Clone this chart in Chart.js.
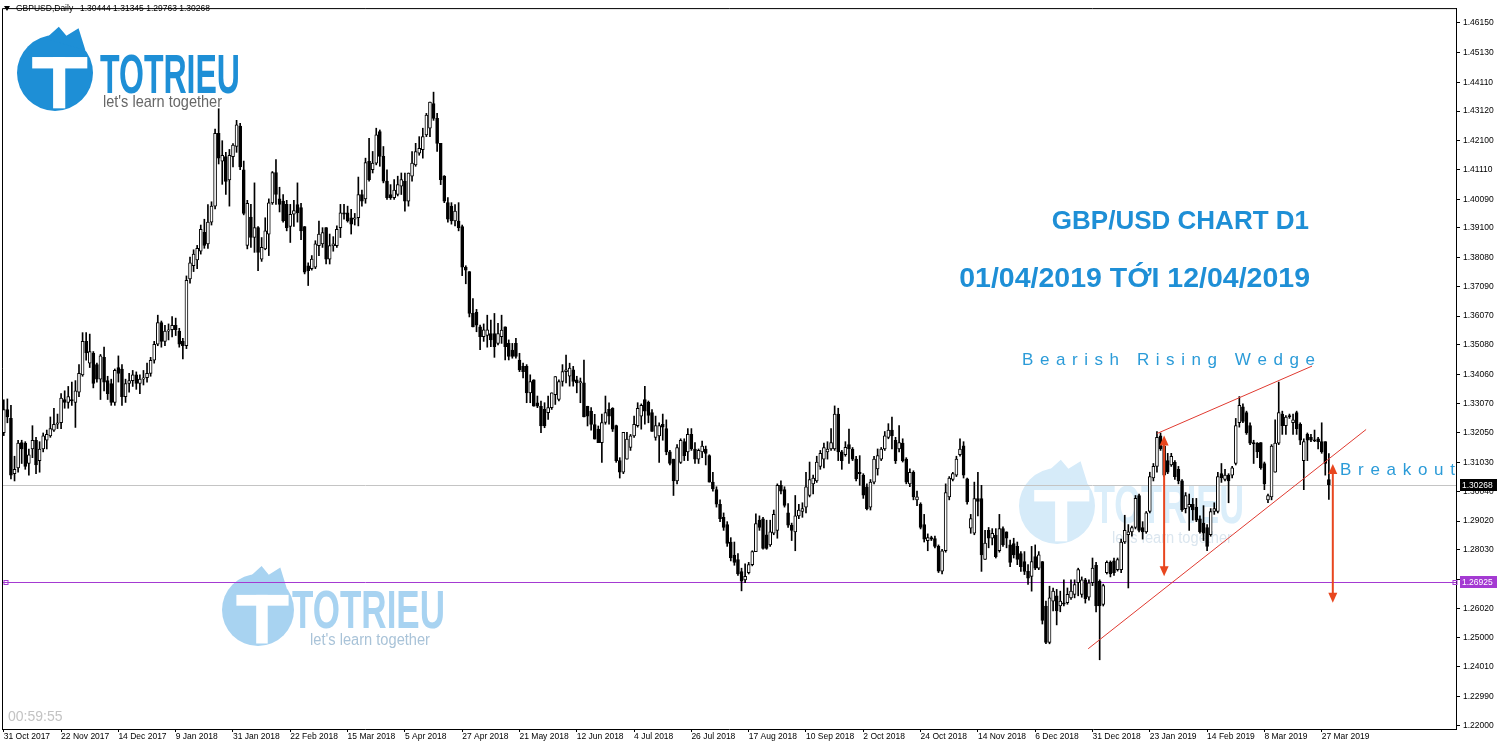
<!DOCTYPE html>
<html>
<head>
<meta charset="utf-8">
<script src="https://cdn.jsdelivr.net/npm/chart.js@4.4.1/dist/chart.umd.min.js"></script>
<style>
  html, body { margin: 0; padding: 0; background: #fff; }
  #wrap { width: 1500px; height: 746px; }
</style>
</head>
<body>
<div id="wrap"><canvas id="chart" width="1500" height="746"></canvas></div>
<script>
// GBPUSD daily, 31 Oct 2017 .. 29 Mar 2019
const tickLabels = ['31 Oct 2017', '22 Nov 2017', '14 Dec 2017', '9 Jan 2018', '31 Jan 2018', '22 Feb 2018',
  '15 Mar 2018', '5 Apr 2018', '27 Apr 2018', '21 May 2018', '12 Jun 2018', '4 Jul 2018', '26 Jul 2018',
  '17 Aug 2018', '10 Sep 2018', '2 Oct 2018', '24 Oct 2018', '14 Nov 2018', '6 Dec 2018', '31 Dec 2018',
  '23 Jan 2019', '14 Feb 2019', '8 Mar 2019', '27 Mar 2019'];

const priceTicks = [1.46150, 1.45130, 1.44110, 1.43120, 1.42100, 1.41110, 1.40090, 1.39100, 1.38080,
  1.37090, 1.36070, 1.35080, 1.34060, 1.33070, 1.32050, 1.31030, 1.30040, 1.29020, 1.28030, 1.27010,
  1.26020, 1.25000, 1.24010, 1.22990, 1.22000];

const opens = [
  1.3206,1.3285,1.3255,1.3065,1.3085,1.3172,1.3170,1.3100,1.3150,1.3180,
  1.3110,1.3150,1.3180,1.3195,1.3215,1.3235,1.3240,1.3320,1.3310,1.3320,
  1.3310,1.3345,1.3405,1.3520,1.3445,1.3480,1.3440,1.3390,1.3465,1.3385,
  1.3375,1.3310,1.3430,1.3425,1.3330,1.3375,1.3385,1.3405,1.3375,1.3390,
  1.3395,1.3410,1.3455,1.3510,1.3585,1.3520,1.3555,1.3560,1.3575,1.3555,
  1.3520,1.3505,1.3735,1.3780,1.3800,1.3830,1.3895,1.3855,1.3930,1.3985,
  1.4235,1.4140,1.4155,1.4075,1.4155,1.4190,1.4260,1.4110,1.3850,1.3947,
  1.3877,1.3911,1.3803,1.3838,1.3889,1.3996,1.4100,1.4010,1.4002,1.3991,
  1.3915,1.3957,1.3990,1.3980,1.3915,1.3780,1.3770,1.3775,1.3849,1.3855,
  1.3911,1.3803,1.3849,1.3849,1.3911,1.3962,1.3962,1.3945,1.3940,1.3945,
  1.4025,1.4010,1.4139,1.4110,1.4133,1.4241,1.4156,1.4071,1.4025,1.4014,
  1.4025,1.4054,1.4071,1.4002,1.4088,1.4127,1.4167,1.4179,1.4230,1.4253,
  1.4338,1.4287,1.4201,1.4088,1.3997,1.3985,1.3934,1.3934,1.3915,1.3775,
  1.3760,1.3616,1.3620,1.3570,1.3536,1.3540,1.3547,1.3547,1.3513,1.3536,
  1.3570,1.3513,1.3490,1.3513,1.3456,1.3434,1.3434,1.3343,1.3388,1.3309,
  1.3297,1.3286,1.3275,1.3292,1.3337,1.3320,1.3382,1.3416,1.3400,1.3422,
  1.3388,1.3377,1.3377,1.3297,1.3280,1.3234,1.3218,1.3172,1.3241,1.3286,
  1.3290,1.3230,1.3110,1.3070,1.3115,1.3155,1.3195,1.3230,1.3263,1.3320,
  1.3310,1.3275,1.3190,1.3195,1.3235,1.3220,1.3140,1.3115,1.3040,1.3104,
  1.3175,1.3140,1.3200,1.3150,1.3115,1.3140,1.3150,1.3127,1.3036,1.3010,
  1.2960,1.2915,1.2890,1.2830,1.2785,1.2770,1.2728,1.2700,1.2725,1.2752,
  1.2797,1.2905,1.2910,1.2855,1.2820,1.2860,1.2870,1.3025,1.3010,1.2930,
  1.2888,1.2865,1.2920,1.2935,1.2950,1.2990,1.3030,1.3040,1.3090,1.3115,
  1.3140,1.3150,1.3150,1.3270,1.3140,1.3130,1.3165,1.3150,1.3115,1.3070,
  1.3060,1.3020,1.2950,1.3036,1.3081,1.3115,1.3150,1.3190,1.3215,1.3180,
  1.3150,1.3170,1.3115,1.3030,1.3070,1.2975,1.2960,1.2890,1.2835,1.2845,
  1.2842,1.2815,1.2730,1.2800,1.2985,1.3045,1.3060,1.3130,1.3161,1.3047,
  1.2878,1.2860,1.2979,1.2979,1.2770,1.2870,1.2843,1.2854,1.2800,1.2876,
  1.2865,1.2820,1.2825,1.2815,1.2790,1.2763,1.2729,1.2712,1.2780,1.2740,
  1.2763,1.2610,1.2485,1.2627,1.2645,1.2610,1.2621,1.2621,1.2638,1.2650,
  1.2690,1.2650,1.2700,1.2640,1.2690,1.2750,1.2695,1.2615,1.2725,1.2760,
  1.2765,1.2735,1.2735,1.2830,1.2855,1.2865,1.2880,1.2990,1.2880,1.2865,
  1.2935,1.3050,1.3090,1.3195,1.3160,1.3110,1.3095,1.3104,1.3080,1.3040,
  1.2945,1.2950,1.2960,1.2950,1.2910,1.2895,1.2880,1.2855,1.2935,1.2935,
  1.3065,1.3045,1.3060,1.3060,1.3100,1.3240,1.3295,1.3275,1.3230,1.3172,
  1.3170,1.3172,1.3100,1.2975,1.2985,1.3070,1.3170,1.3270,1.3230,1.3265,
  1.3240,1.3275,1.3235,1.3110,1.3200,1.3190,1.3180,1.3185,1.3175,1.3175,
  1.30444];

const highs = [
  1.3319,1.3322,1.3300,1.3125,1.3180,1.3180,1.3175,1.3150,1.3230,1.3190,
  1.3175,1.3205,1.3215,1.3260,1.3290,1.3270,1.3340,1.3350,1.3365,1.3380,
  1.3385,1.3440,1.3550,1.3550,1.3545,1.3485,1.3445,1.3475,1.3500,1.3400,
  1.3390,1.3425,1.3470,1.3440,1.3390,1.3410,1.3420,1.3415,1.3405,1.3420,
  1.3445,1.3465,1.3520,1.3610,1.3590,1.3575,1.3580,1.3605,1.3600,1.3565,
  1.3530,1.3745,1.3810,1.3835,1.3850,1.3920,1.3940,1.3990,1.4000,1.4250,
  1.4320,1.4210,1.4170,1.4180,1.4200,1.4280,1.4270,1.4140,1.4005,1.3991,
  1.4065,1.3915,1.3877,1.3945,1.4010,1.4104,1.4145,1.4050,1.4025,1.4005,
  1.3991,1.4005,1.4065,1.3995,1.3915,1.3790,1.3815,1.3866,1.3934,1.3911,
  1.3911,1.3889,1.3880,1.3917,1.3991,1.3991,1.3985,1.3974,1.3960,1.4085,
  1.4040,1.4150,1.4218,1.4173,1.4253,1.4247,1.4190,1.4110,1.4059,1.4076,
  1.4088,1.4099,1.4099,1.4099,1.4173,1.4201,1.4224,1.4253,1.4304,1.4343,
  1.4377,1.4304,1.4201,1.4090,1.4014,1.3997,1.3990,1.3997,1.3920,1.3780,
  1.3760,1.3667,1.3630,1.3576,1.3580,1.3610,1.3593,1.3616,1.3582,1.3610,
  1.3570,1.3525,1.3513,1.3530,1.3479,1.3445,1.3440,1.3405,1.3388,1.3332,
  1.3315,1.3309,1.3332,1.3343,1.3399,1.3388,1.3440,1.3473,1.3445,1.3434,
  1.3400,1.3394,1.3456,1.3297,1.3292,1.3269,1.3229,1.3270,1.3332,1.3309,
  1.3292,1.3232,1.3120,1.3207,1.3207,1.3200,1.3263,1.3309,1.3305,1.3365,
  1.3315,1.3285,1.3263,1.3240,1.3270,1.3250,1.3145,1.3115,1.3165,1.3185,
  1.3185,1.3220,1.3220,1.3172,1.3150,1.3177,1.3160,1.3130,1.3070,1.3020,
  1.2975,1.2930,1.2900,1.2845,1.2830,1.2790,1.2740,1.2755,1.2760,1.2800,
  1.2927,1.2920,1.2915,1.2905,1.2905,1.2940,1.3030,1.3040,1.3020,1.2962,
  1.2895,1.2990,1.2960,1.2965,1.3070,1.3105,1.3060,1.3125,1.3145,1.3170,
  1.3175,1.3220,1.3298,1.3290,1.3145,1.3175,1.3218,1.3155,1.3125,1.3127,
  1.3065,1.3030,1.3045,1.3125,1.3150,1.3155,1.3210,1.3237,1.3260,1.3190,
  1.3230,1.3185,1.3120,1.3082,1.3075,1.3005,1.2965,1.2925,1.2858,1.2850,
  1.2850,1.2820,1.2805,1.3030,1.3055,1.3070,1.3125,1.3185,1.3175,1.3050,
  1.2925,1.3036,1.3070,1.3025,1.2870,1.2880,1.2876,1.2876,1.2925,1.2882,
  1.2865,1.2837,1.2843,1.2830,1.2797,1.2797,1.2752,1.2815,1.2820,1.2797,
  1.2763,1.2627,1.2678,1.2672,1.2667,1.2661,1.2700,1.2672,1.2700,1.2700,
  1.2740,1.2710,1.2705,1.2700,1.2775,1.2760,1.2700,1.2685,1.2765,1.2765,
  1.2775,1.2775,1.2840,1.2922,1.2890,1.2885,1.2990,1.2995,1.2900,1.2935,
  1.3070,1.3100,1.3210,1.3205,1.3165,1.3135,1.3135,1.3110,1.3090,1.3045,
  1.3000,1.2995,1.2980,1.2980,1.2920,1.2955,1.2890,1.2945,1.2965,1.3070,
  1.3100,1.3080,1.3065,1.3090,1.3255,1.3330,1.3305,1.3280,1.3240,1.3180,
  1.3172,1.3172,1.3105,1.2995,1.3165,1.3250,1.3380,1.3280,1.3265,1.3270,
  1.3270,1.3280,1.3240,1.3185,1.3205,1.3200,1.3215,1.3190,1.3240,1.3175,
  1.31345];

const lows = [
  1.3196,1.3240,1.3047,1.3040,1.3070,1.3100,1.3080,1.3060,1.3120,1.3065,
  1.3070,1.3140,1.3150,1.3190,1.3210,1.3220,1.3220,1.3290,1.3290,1.3300,
  1.3224,1.3330,1.3400,1.3455,1.3430,1.3360,1.3380,1.3320,1.3350,1.3320,
  1.3300,1.3300,1.3380,1.3300,1.3310,1.3345,1.3365,1.3355,1.3340,1.3370,
  1.3380,1.3400,1.3445,1.3505,1.3500,1.3505,1.3525,1.3535,1.3540,1.3500,
  1.3460,1.3495,1.3720,1.3760,1.3770,1.3820,1.3840,1.3840,1.3920,1.3975,
  1.4130,1.4060,1.4025,1.3985,1.4120,1.4170,1.4110,1.3955,1.3838,1.3843,
  1.3826,1.3763,1.3795,1.3835,1.3815,1.3991,1.3991,1.3965,1.3930,1.3900,
  1.3860,1.3915,1.3930,1.3870,1.3752,1.3712,1.3765,1.3770,1.3815,1.3843,
  1.3786,1.3786,1.3830,1.3843,1.3877,1.3940,1.3930,1.3889,1.3920,1.3917,
  1.3985,1.3995,1.4071,1.4099,1.4127,1.4122,1.4065,1.4008,1.4008,1.4008,
  1.4020,1.4025,1.3968,1.3985,1.4071,1.4122,1.4160,1.4150,1.4224,1.4224,
  1.4280,1.4173,1.4059,1.3997,1.3930,1.3923,1.3917,1.3900,1.3746,1.3718,
  1.3604,1.3570,1.3553,1.3491,1.3520,1.3500,1.3502,1.3465,1.3508,1.3513,
  1.3456,1.3456,1.3462,1.3462,1.3416,1.3394,1.3309,1.3309,1.3297,1.3292,
  1.3206,1.3223,1.3252,1.3286,1.3303,1.3315,1.3366,1.3377,1.3366,1.3366,
  1.3343,1.3309,1.3260,1.3229,1.3215,1.3184,1.3172,1.3104,1.3235,1.3235,
  1.3210,1.3104,1.3050,1.3065,1.3115,1.3145,1.3190,1.3225,1.3218,1.3235,
  1.3240,1.3210,1.3180,1.3104,1.3180,1.3130,1.3095,1.2990,1.3030,1.3100,
  1.3110,1.3110,1.3145,1.3100,1.3100,1.3120,1.3095,1.3036,1.3005,1.2950,
  1.2900,1.2870,1.2815,1.2765,1.2750,1.2715,1.2662,1.2690,1.2720,1.2748,
  1.2797,1.2870,1.2805,1.2805,1.2815,1.2855,1.2843,1.2995,1.2950,1.2880,
  1.2835,1.2800,1.2910,1.2915,1.2930,1.2985,1.2995,1.3035,1.3080,1.3085,
  1.3115,1.3145,1.3145,1.3110,1.3080,1.3125,1.3100,1.3110,1.3040,1.3025,
  1.2980,1.2940,1.2940,1.3030,1.3060,1.3110,1.3145,1.3185,1.3150,1.3100,
  1.3140,1.3105,1.3030,1.3020,1.2975,1.2955,1.2875,1.2830,1.2800,1.2835,
  1.2810,1.2725,1.2720,1.2795,1.2975,1.3040,1.3055,1.3125,1.3050,1.2960,
  1.2860,1.2855,1.2920,1.2729,1.2770,1.2810,1.2820,1.2775,1.2795,1.2815,
  1.2810,1.2745,1.2775,1.2752,1.2729,1.2718,1.2684,1.2661,1.2735,1.2735,
  1.2548,1.2480,1.2480,1.2593,1.2545,1.2590,1.2610,1.2616,1.2633,1.2638,
  1.2645,1.2640,1.2620,1.2630,1.2680,1.2590,1.2425,1.2610,1.2720,1.2710,
  1.2715,1.2730,1.2725,1.2825,1.2672,1.2850,1.2875,1.2865,1.2840,1.2860,
  1.2930,1.3040,1.3070,1.3145,1.3055,1.3065,1.3090,1.3045,1.3030,1.2935,
  1.2930,1.2870,1.2905,1.2900,1.2860,1.2835,1.2800,1.2850,1.2925,1.2930,
  1.3035,1.3040,1.2965,1.3050,1.3095,1.3225,1.3240,1.3200,1.3165,1.3100,
  1.3120,1.3080,1.3010,1.2965,1.2975,1.3070,1.3165,1.3200,1.3200,1.3255,
  1.3200,1.3200,1.3165,1.3010,1.3110,1.3175,1.3175,1.3150,1.3135,1.3060,
  1.29763];

const closes = [
  1.3285,1.3260,1.3060,1.3080,1.3170,1.3150,1.3090,1.3130,1.3180,1.3095,
  1.3150,1.3195,1.3200,1.3220,1.3235,1.3240,1.3325,1.3310,1.3330,1.3315,
  1.3350,1.3410,1.3520,1.3480,1.3485,1.3375,1.3390,1.3470,1.3380,1.3340,
  1.3310,1.3420,1.3410,1.3330,1.3375,1.3385,1.3405,1.3375,1.3390,1.3395,
  1.3410,1.3455,1.3510,1.3585,1.3520,1.3555,1.3560,1.3575,1.3560,1.3510,
  1.3505,1.3730,1.3790,1.3820,1.3840,1.3905,1.3850,1.3930,1.3985,1.4235,
  1.4150,1.4160,1.4070,1.4160,1.4195,1.4265,1.4120,1.3960,1.3995,1.3877,
  1.3911,1.3826,1.3843,1.3900,1.3996,1.4100,1.4025,1.3991,1.3934,1.3911,
  1.3957,1.3970,1.3962,1.3900,1.3758,1.3763,1.3803,1.3855,1.3889,1.3894,
  1.3803,1.3849,1.3855,1.3905,1.3962,1.3957,1.3934,1.3923,1.3945,1.4025,
  1.4002,1.4135,1.4076,1.4133,1.4230,1.4156,1.4071,1.4014,1.4014,1.4040,
  1.4059,1.4076,1.4002,1.4099,1.4133,1.4173,1.4184,1.4224,1.4298,1.4343,
  1.4287,1.4201,1.4076,1.4002,1.3940,1.3934,1.3968,1.3911,1.3775,1.3765,
  1.3616,1.3570,1.3576,1.3536,1.3560,1.3560,1.3525,1.3502,1.3547,1.3559,
  1.3502,1.3468,1.3468,1.3468,1.3422,1.3416,1.3343,1.3382,1.3297,1.3297,
  1.3229,1.3229,1.3292,1.3343,1.3399,1.3382,1.3416,1.3422,1.3428,1.3382,
  1.3377,1.3382,1.3260,1.3263,1.3234,1.3184,1.3172,1.3241,1.3275,1.3263,
  1.3218,1.3110,1.3070,1.3207,1.3184,1.3195,1.3235,1.3290,1.3300,1.3280,
  1.3265,1.3210,1.3230,1.3230,1.3225,1.3140,1.3100,1.3040,1.3155,1.3180,
  1.3127,1.3200,1.3150,1.3115,1.3145,1.3160,1.3135,1.3036,1.3013,1.2960,
  1.2910,1.2880,1.2825,1.2775,1.2760,1.2720,1.2695,1.2712,1.2752,1.2797,
  1.2893,1.2880,1.2808,1.2808,1.2865,1.2925,1.3025,1.3005,1.2956,1.2888,
  1.2870,1.2920,1.2940,1.2945,1.3020,1.3045,1.3050,1.3105,1.3135,1.3155,
  1.3150,1.3172,1.3270,1.3140,1.3110,1.3156,1.3150,1.3115,1.3047,1.3065,
  1.2991,1.2945,1.3036,1.3115,1.3127,1.3150,1.3195,1.3215,1.3195,1.3110,
  1.3172,1.3110,1.3036,1.3070,1.2985,1.2985,1.2880,1.2840,1.2845,1.2840,
  1.2815,1.2730,1.2800,1.3000,1.3050,1.3065,1.3115,1.3150,1.3060,1.2968,
  1.2911,1.2979,1.2970,1.2786,1.2826,1.2843,1.2860,1.2780,1.2876,1.2820,
  1.2843,1.2760,1.2786,1.2770,1.2745,1.2729,1.2706,1.2763,1.2740,1.2786,
  1.2560,1.2485,1.2638,1.2661,1.2593,1.2627,1.2616,1.2650,1.2661,1.2684,
  1.2735,1.2700,1.2635,1.2690,1.2740,1.2610,1.2610,1.2680,1.2760,1.2720,
  1.2725,1.2770,1.2830,1.2870,1.2865,1.2880,1.2980,1.2870,1.2865,1.2930,
  1.3055,1.3090,1.3190,1.3150,1.3060,1.3070,1.3125,1.3055,1.3040,1.2940,
  1.2990,1.2960,1.2940,1.2905,1.2865,1.2860,1.2815,1.2935,1.2945,1.3055,
  1.3050,1.3060,1.3040,1.3085,1.3230,1.3300,1.3245,1.3205,1.3170,1.3167,
  1.3140,1.3085,1.3030,1.2990,1.3160,1.3170,1.3275,1.3230,1.3260,1.3260,
  1.3250,1.3220,1.3180,1.3175,1.3180,1.3180,1.3178,1.3175,1.3140,1.3100,
  1.30268];

const lastPrice = 1.30268;
const levelPrice = 1.26925;
const headerValues = [1.30444, 1.31345, 1.29763, 1.30268];
// wedge trend lines and target arrows, in [bar index, price]
const wedgeUpper = [[322.0, 1.3203], [365.3, 1.3435]];
const wedgeLower = [[302.8, 1.2463], [380.4, 1.3217]];
const arrows = [[324.0, 1.3196, 1.2712], [371.1, 1.3098, 1.2621]];

const FONT = "'Liberation Sans', Arial, sans-serif";
const BLUE = '#1e8fd6';

const n = Math.min(opens.length, highs.length, lows.length, closes.length);
const bodies = [], wicks = [];
for (let i = 0; i < n; i++) {
  bodies.push({ x: i, y: [opens[i], closes[i]] });
  wicks.push({ x: i, y: [lows[i], highs[i]] });
}

function drawLogo(c, o) {
  c.save();
  c.fillStyle = o.icon;
  c.beginPath();
  c.arc(o.cx, o.cy, o.r, 0, Math.PI * 2);
  c.fill();
  // little flame on top of the badge
  c.beginPath();
  c.moveTo(o.cx - o.r * 0.25, o.cy - o.r * 0.9);
  c.lineTo(o.cx + o.r * 0.1, o.cy - o.r * 1.22);
  c.lineTo(o.cx + o.r * 0.3, o.cy - o.r * 0.98);
  c.lineTo(o.cx + o.r * 0.62, o.cy - o.r * 1.18);
  c.lineTo(o.cx + o.r * 0.8, o.cy - o.r * 0.6);
  c.closePath();
  c.fill();
  c.fillStyle = '#fff';
  c.fillRect(o.cx - o.r * 0.6, o.cy - o.r * 0.42, o.r * 1.45, o.r * 0.3);
  c.fillRect(o.cx - o.r * 0.05, o.cy - o.r * 0.42, o.r * 0.32, o.r * 1.35);

  c.fillStyle = o.text;
  c.font = 'bold ' + o.ts + 'px ' + FONT;
  c.textBaseline = 'alphabetic';
  c.textAlign = 'left';
  let w = c.measureText('TOTRIEU').width;
  c.save();
  c.translate(o.tx, o.tb);
  c.scale(o.tw / w, 1);
  c.fillText('TOTRIEU', 0, 0);
  c.restore();

  c.fillStyle = o.tag;
  c.font = o.gs + 'px ' + FONT;
  c.textBaseline = 'middle';
  w = c.measureText("let's learn together").width;
  c.save();
  c.translate(o.gx, o.gy);
  c.scale(o.gw / w, 1);
  c.fillText("let's learn together", 0, 0);
  c.restore();
  c.restore();
}

function drawSpaced(c, text, x0, x1, y) {
  const chars = text.split('');
  const widths = chars.map(ch => c.measureText(ch).width);
  const natural = widths.reduce((a, b) => a + b, 0);
  const gap = (x1 - x0 - natural) / (chars.length - 1);
  let x = x0;
  chars.forEach((ch, k) => {
    c.fillText(ch, x, y);
    x += widths[k] + gap;
  });
}

function drawArrow(c, x, yTop, yBot) {
  const head = 10, half = 4.5;
  c.strokeStyle = '#e8461e';
  c.fillStyle = '#e8461e';
  c.lineWidth = 2;
  c.beginPath();
  c.moveTo(x, yTop + head - 1);
  c.lineTo(x, yBot - head + 1);
  c.stroke();
  c.beginPath();
  c.moveTo(x, yTop);
  c.lineTo(x - half, yTop + head);
  c.lineTo(x + half, yTop + head);
  c.closePath();
  c.fill();
  c.beginPath();
  c.moveTo(x, yBot);
  c.lineTo(x - half, yBot - head);
  c.lineTo(x + half, yBot - head);
  c.closePath();
  c.fill();
}

function priceBox(c, chart, p, bg) {
  const y = Math.round(chart.scales.y.getPixelForValue(p));
  const x = chart.chartArea.right + 4;
  c.fillStyle = bg;
  c.fillRect(x, y - 6, 37, 12);
  c.fillStyle = '#fff';
  c.font = '8.5px ' + FONT;
  c.textBaseline = 'middle';
  c.textAlign = 'left';
  c.fillText(p.toFixed(5), x + 2, y + 0.5);
}

const decor = {
  id: 'decor',
  beforeDatasetsDraw(chart) {
    const c = chart.ctx, a = chart.chartArea, ys = chart.scales.y;
    c.save();
    drawLogo(c, { cx: 258, cy: 610, r: 36, tx: 292, tw: 153, tb: 628, ts: 54, gx: 310, gw: 120, gy: 641, gs: 16,
      icon: '#a8d3f1', text: '#a8d3f1', tag: '#a9c3d8' });
    drawLogo(c, { cx: 1057, cy: 506, r: 38, tx: 1094, tw: 150, tb: 523, ts: 54, gx: 1112, gw: 120, gy: 539, gs: 16,
      icon: '#d6ebf9', text: '#dbeefa', tag: '#dbe6ef' });
    drawLogo(c, { cx: 55, cy: 73, r: 38, tx: 100, tw: 140, tb: 93, ts: 56, gx: 103, gw: 119, gy: 102, gs: 17,
      icon: BLUE, text: BLUE, tag: '#676767' });

    const yl = Math.round(ys.getPixelForValue(lastPrice)) + 0.5;
    c.strokeStyle = '#c4c4c4';
    c.lineWidth = 1;
    c.beginPath();
    c.moveTo(a.left, yl);
    c.lineTo(a.right, yl);
    c.stroke();

    const yp = Math.round(ys.getPixelForValue(levelPrice)) + 0.5;
    c.strokeStyle = '#a43ad2';
    c.beginPath();
    c.moveTo(a.left, yp);
    c.lineTo(a.right, yp);
    c.stroke();
    c.strokeRect(a.left + 2, yp - 2, 4, 4);
    c.strokeRect(a.right - 3, yp - 2, 4, 4);
    c.restore();
  },
  afterDatasetsDraw(chart) {
    const c = chart.ctx, a = chart.chartArea, xs = chart.scales.x, ys = chart.scales.y;
    c.save();
    // frame, left and top
    c.strokeStyle = '#000';
    c.lineWidth = 1;
    c.beginPath();
    c.moveTo(a.left + 0.5, a.bottom);
    c.lineTo(a.left + 0.5, a.top + 0.5);
    c.lineTo(a.right, a.top + 0.5);
    c.stroke();

    arrows.forEach(([i, top, bot]) => {
      drawArrow(c, xs.getPixelForValue(i), ys.getPixelForValue(top), ys.getPixelForValue(bot));
    });

    c.fillStyle = BLUE;
    c.textBaseline = 'middle';
    c.textAlign = 'right';
    c.font = 'bold 26px ' + FONT;
    c.fillText('GBP/USD CHART D1', 1309, 222);
    c.font = 'bold 28.5px ' + FONT;
    c.fillText('01/04/2019 TỚI 12/04/2019', 1310, 279);

    c.textAlign = 'left';
    c.fillStyle = '#2b9bd8';
    c.font = '17px ' + FONT;
    drawSpaced(c, 'Bearish Rising Wedge', 1022, 1315, 360);
    drawSpaced(c, 'Breakout', 1340, 1455, 470);

    priceBox(c, chart, lastPrice, '#000');
    priceBox(c, chart, levelPrice, '#a43ad2');

    // header
    c.fillStyle = '#000';
    c.beginPath();
    c.moveTo(4, 6);
    c.lineTo(10, 6);
    c.lineTo(7, 11);
    c.closePath();
    c.fill();
    c.font = '8.5px ' + FONT;
    c.textBaseline = 'middle';
    c.fillText('GBPUSD,Daily', 16, 9);
    c.fillText(headerValues.map(v => v.toFixed(5)).join(' '), 80, 9);

    c.fillStyle = '#c3c3c3';
    c.font = '14px ' + FONT;
    c.fillText('00:59:55', 8, 717);
    c.restore();
  }
};

const upColor = ctx => (closes[ctx.dataIndex] >= opens[ctx.dataIndex] ? '#ffffff' : '#000000');

new Chart(document.getElementById('chart'), {
  type: 'bar',
  data: {
    datasets: [
      { type: 'line', data: wedgeUpper.map(([x, y]) => ({ x, y })), borderColor: '#e03a30', borderWidth: 1,
        pointRadius: 0, tension: 0, order: 0 },
      { type: 'line', data: wedgeLower.map(([x, y]) => ({ x, y })), borderColor: '#e03a30', borderWidth: 1,
        pointRadius: 0, tension: 0, order: 0 },
      { label: 'body', data: bodies, barThickness: 3, minBarLength: 1, grouped: false, order: 1,
        backgroundColor: upColor, borderColor: '#000', borderWidth: 1, borderSkipped: false },
      { label: 'wick', data: wicks, barThickness: 1, grouped: false, order: 2,
        backgroundColor: '#000', borderWidth: 0 }
    ]
  },
  options: {
    responsive: false,
    animation: false,
    devicePixelRatio: 1,
    layout: { padding: { left: 2, top: 2, right: 0, bottom: 0 } },
    plugins: { legend: { display: false }, tooltip: { enabled: false } },
    scales: {
      x: {
        type: 'linear', min: -0.5, max: 405.5, offset: false,
        afterBuildTicks: s => { s.ticks = tickLabels.map((_, k) => ({ value: k * 16 })); },
        afterFit: s => { s.height = 17; },
        ticks: { autoSkip: false, maxRotation: 0, align: 'start', padding: 0, color: '#000',
          font: { family: FONT, size: 8.5 }, callback: v => tickLabels[Math.round(v / 16)] },
        grid: { offset: false, drawOnChartArea: false, drawTicks: true, tickLength: 3, color: '#000' },
        border: { display: true, color: '#000' }
      },
      y: {
        position: 'right', min: 1.2187, max: 1.4666,
        afterBuildTicks: s => { s.ticks = priceTicks.map(v => ({ value: v })); },
        afterFit: s => { s.width = 44; },
        ticks: { autoSkip: false, padding: 3, color: '#000', font: { family: FONT, size: 8.5 },
          callback: v => v.toFixed(5) },
        grid: { drawOnChartArea: false, drawTicks: true, tickLength: 4, color: '#000' },
        border: { display: true, color: '#000' }
      }
    }
  },
  plugins: [decor]
});
</script>
</body>
</html>
